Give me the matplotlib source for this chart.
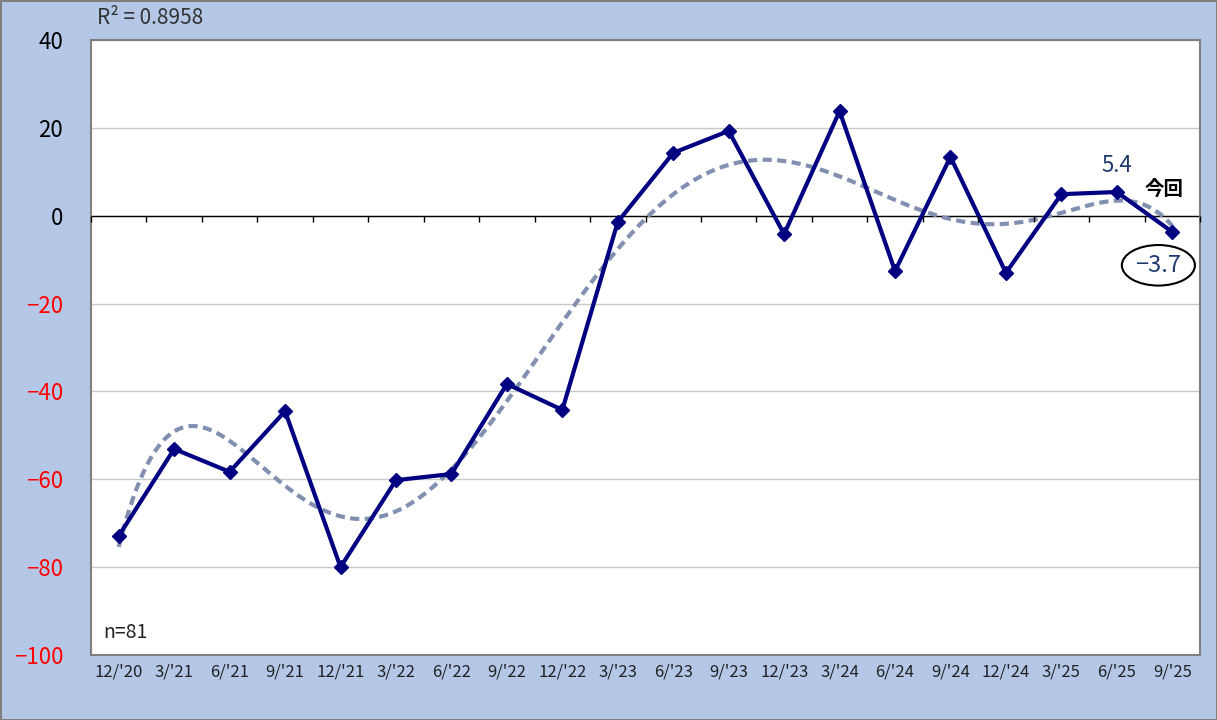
import matplotlib.pyplot as plt
import numpy as np

plt.rcParams['font.family'] = ['Noto Sans CJK JP', 'DejaVu Sans']

quarters = ["12/'20", "3/'21", "6/'21", "9/'21", "12/'21", "3/'22", "6/'22",
            "9/'22", "12/'22", "3/'23", "6/'23", "9/'23", "12/'23", "3/'24",
            "6/'24", "9/'24", "12/'24", "3/'25", "6/'25", "9/'25"]
di_values = [-72.9, -53.1, -58.3, -44.5, -80.0, -60.2, -58.8, -38.3, -44.2, -1.4,
             14.3, 19.3, -4.2, 23.8, -12.6, 13.4, -13.0, 4.9, 5.4, -3.7]
y_ticks = [40, 20, 0, -20, -40, -60, -80, -100]

BG = '#b4c7e7'
NAVY = '#000080'

x = np.arange(len(quarters))
y = np.array(di_values)

# 6th order polynomial trend, same as the spreadsheet trendline
coef = np.polyfit(x, y, 6)
xs = np.linspace(0, len(quarters) - 1, 300)
trend = np.polyval(coef, xs)

fig = plt.figure(figsize=(12.17, 7.2), dpi=100, facecolor=BG)
fig.patch.set_edgecolor('#7f7f7f')
fig.patch.set_linewidth(2)
rect = [91 / 1217, 65 / 720, 1109 / 1217, 615 / 720]
ax = fig.add_axes(rect)
ax.set_facecolor('white')

ax.set_xlim(-0.5, len(quarters) - 0.5)
ax.set_ylim(-100, 40)
ax.set_yticks(y_ticks)
ax.grid(axis='y', color='#c8c8c8', linewidth=1)
ax.set_axisbelow(True)

ax.axhline(0, color='black', linewidth=1, zorder=1.5)
ax.plot(xs, trend, color='#8190b0', linewidth=3, linestyle=(0, (2.2, 1.3)), zorder=2)
ax.plot(x, y, color=NAVY, linewidth=3, marker='D', markersize=7.5, zorder=3)

# frame
for s in ax.spines.values():
    s.set_color('#808080')
    s.set_linewidth(1.5)

ax.set_xticks(x)
ax.set_xticklabels(quarters, fontsize=12, color='#222222')
ax.tick_params(axis='x', length=0, pad=6)
ax.tick_params(axis='y', length=0, pad=20, labelsize=16)
for lab, v in zip(ax.get_yticklabels(), y_ticks):
    lab.set_color('red' if v < 0 else 'black')

# category boundary ticks hanging from the zero line (thin overlay axes)
zero_pos = (0 - (-100)) / 140
zax = fig.add_axes([rect[0], rect[1] + rect[3] * zero_pos, rect[2], 1e-6], zorder=1.5)
zax.patch.set_visible(False)
zax.set_xlim(ax.get_xlim())
for s in zax.spines.values():
    s.set_visible(False)
zax.set_xticks(np.arange(-0.5, len(quarters), 1.0))
zax.set_xticklabels([])
zax.set_yticks([])
zax.tick_params(axis='x', direction='out', length=4, color='black', width=1)

# annotations
ax.annotate(f"{di_values[-2]}", (x[-2], y[-2]), xytext=(0, 11), textcoords='offset points',
            ha='center', va='bottom', fontsize=16, color='#1f3a6e')
ax.annotate("今回", (x[-2], y[-2]), xytext=(34, 2), textcoords='offset points',
            ha='center', va='center', fontsize=14, fontweight='bold', color='black')
ax.annotate(f"−{abs(di_values[-1])}", (x[-1], y[-1]), xytext=(-10, -24), textcoords='offset points',
            ha='center', va='center', fontsize=17, color='#1f3a6e',
            bbox=dict(boxstyle='ellipse,pad=0.12', facecolor='white', edgecolor='black', linewidth=1.5))

ax.text(0.011, 0.02, "n=81", transform=ax.transAxes, fontsize=14, color='#222222',
        ha='left', va='bottom')
fig.text(97 / 1217, 1 - 18 / 720, "R² = 0.8958", fontsize=15, color='#333333',
         ha='left', va='center')

fig.savefig('out.png', dpi=100, facecolor=fig.get_facecolor(), edgecolor=fig.get_edgecolor())
